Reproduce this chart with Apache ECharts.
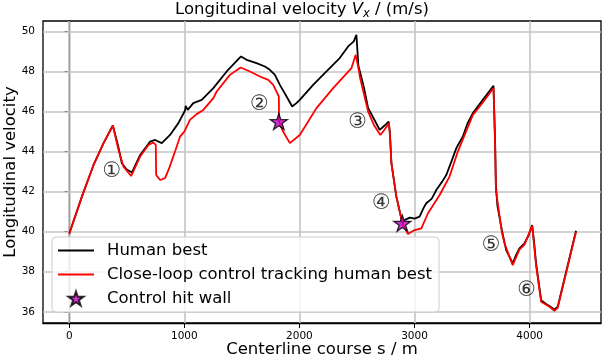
<!DOCTYPE html>
<html>
<head>
<meta charset="utf-8">
<script src="https://cdn.jsdelivr.net/npm/echarts@6/dist/echarts.min.js"></script>
<style>
  html, body { margin: 0; padding: 0; background: #fff; }
  #velocityChart { width: 604px; height: 362px; }
</style>
</head>
<body>
<div id="velocityChart"></div>
<script>
// human best lap: course position s (m) and longitudinal velocity (m/s)
const humanS = [0, 110, 211, 298, 379, 428, 457, 500, 544, 616, 703, 746, 804, 876, 948, 1006, 1012, 1029, 1078, 1151,
  1252, 1368, 1492, 1541, 1627, 1700, 1743, 1787, 1830, 1888, 1937, 1974, 2003, 2119, 2235, 2350, 2423, 2472, 2495, 2512,
  2560, 2597, 2650, 2697, 2740, 2775, 2785, 2799, 2842, 2880, 2894, 2920, 2960, 3000, 3044, 3080, 3102, 3150, 3189, 3240,
  3276, 3320, 3363, 3420, 3460, 3507, 3593, 3686, 3700, 3707, 3720, 3758, 3796, 3853, 3880, 3911, 3955, 3990, 4022, 4040,
  4056, 4100, 4140, 4172, 4215, 4244, 4403];
const humanV = [39.9, 41.75, 43.33, 44.42, 45.3, 44.2, 43.42, 43.1, 42.95, 43.83, 44.5, 44.58, 44.42, 44.83, 45.42, 46.05, 46.28, 46.08, 46.42, 46.58,
  47.17, 48.0, 48.75, 48.58, 48.42, 48.25, 48.08, 47.83, 47.33, 46.75, 46.25, 46.42, 46.58, 47.33, 48.0, 48.67, 49.25, 49.5, 49.83, 48.3,
  47.2, 46.17, 45.6, 45.08, 45.3, 45.5, 45.0, 43.42, 41.75, 40.8, 40.45, 40.6, 40.7, 40.65, 40.75, 41.2, 41.42, 41.65, 42.08, 42.5,
  42.83, 43.5, 44.17, 44.75, 45.4, 45.92, 46.58, 47.28, 44.5, 42.3, 41.3, 40.1, 39.08, 38.42, 38.8, 39.17, 39.42, 39.8, 40.33, 39.4,
  38.42, 36.58, 36.4, 36.29, 36.12, 36.25, 40.05];

// close-loop control tracking human best
const trackS = [0, 110, 211, 298, 379, 428, 471, 538, 616, 688, 731, 752, 755, 789, 833, 870, 919, 963, 1000, 1049,
  1107, 1165, 1252, 1281, 1396, 1489, 1570, 1657, 1729, 1772, 1807, 1821, 1823, 1858, 1917, 2003, 2148, 2293, 2452, 2489,
  2518, 2524, 2597, 2650, 2703, 2740, 2778, 2790, 2799, 2842, 2894, 2943, 3001, 3059, 3117, 3218, 3304, 3376, 3440, 3507,
  3600, 3686, 3700, 3707, 3758, 3781, 3853, 3911, 3955, 4022, 4056, 4100, 4172, 4215, 4244, 4403];
const trackV = [39.9, 41.75, 43.33, 44.42, 45.3, 44.08, 43.25, 42.78, 43.75, 44.33, 44.45, 44.33, 42.83, 42.58, 42.67, 43.2, 44.0, 44.75, 45.0, 45.58,
  45.87, 46.08, 46.67, 47.0, 47.83, 48.2, 48.0, 47.75, 47.58, 47.33, 46.92, 46.75, 45.5, 45.0, 44.42, 44.83, 46.17, 47.17, 48.17, 48.83,
  48.0, 47.75, 46.0, 45.3, 44.83, 45.1, 45.42, 44.5, 43.42, 41.75, 40.42, 39.88, 40.08, 40.17, 40.92, 41.83, 42.75, 44.0, 44.9, 45.83,
  46.5, 47.17, 44.3, 42.08, 40.0, 39.42, 38.33, 39.1, 39.35, 40.3, 38.3, 36.5, 36.25, 36.05, 36.2, 40.0];

// where the controller hit the wall
const wallS = [1821, 2894];
const wallV = [45.5, 40.42];

// circled corner labels
const noteText = ['①', '②', '③', '④', '⑤', '⑥'];
const noteS = [370, 1653, 2506, 2712, 3666, 3975];
const noteV = [43.0, 46.37, 45.46, 41.42, 39.33, 37.08];

const xTicks = [0, 1000, 2000, 3000, 4000];
const yTicks = [36, 38, 40, 42, 44, 46, 48, 50];

const font = 'DejaVu Sans';
const starPath = 'path://M50,0 L61.8,35.1 L98.9,35.1 L68.9,56.9 L80.3,92.1 L50,70.4 L19.7,92.1 L31.1,56.9 L1.1,35.1 L38.2,35.1 Z';

const pair = (xs, ys) => xs.map((x, i) => [x, ys[i]]);

let myChart = echarts.init(document.getElementById('velocityChart'));
let option = {
  animation: false,
  title: {
    text: '{a|Longitudinal velocity }{b|V}{c|x}{a| / (m/s)}',
    left: 'center',
    top: 0,
    padding: 0,
    textStyle: {
      fontWeight: 'normal',
      rich: {
        a: { fontSize: 16.5, fontFamily: font, fontWeight: 'normal', color: '#000', lineHeight: 20 },
        b: { fontSize: 16.5, fontFamily: font, fontWeight: 'normal', color: '#000', fontStyle: 'italic', lineHeight: 20 },
        c: { fontSize: 11.5, fontFamily: font, fontWeight: 'normal', color: '#000', fontStyle: 'italic', lineHeight: 12, verticalAlign: 'bottom' }
      }
    }
  },
  legend: {
    data: [
      { name: 'Human best', itemStyle: { opacity: 0 } },
      { name: 'Close-loop control tracking human best', itemStyle: { opacity: 0 } },
      { name: 'Control hit wall' }
    ],
    orient: 'vertical',
    left: 52,
    top: 237,
    itemWidth: 36,
    itemHeight: 14,
    itemGap: 7,
    padding: [5, 7, 5, 5],
    backgroundColor: 'rgba(255,255,255,0.8)',
    borderColor: '#cccccc',
    borderWidth: 1,
    borderRadius: 4,
    textStyle: { fontSize: 16.5, fontFamily: font, color: '#000', padding: [0, 0, 0, 8] }
  },
  grid: {
    left: 43, right: 3, top: 21, bottom: 39,
    outerBoundsMode: 'none',
    containLabel: false,
    show: true,
    borderColor: '#000',
    borderWidth: 1.3
  },
  xAxis: {
    type: 'value',
    min: -228,
    max: 4620,
    name: 'Centerline course s / m',
    nameLocation: 'middle',
    nameGap: 18,
    nameMoveOverlap: false,
    nameTextStyle: { fontSize: 16.5, fontFamily: font, color: '#000' },
    axisLine: { show: true, lineStyle: { color: '#000', width: 1.3 } },
    axisTick: { show: true, inside: false, length: 5, customValues: xTicks, lineStyle: { color: '#000' } },
    axisLabel: { customValues: xTicks, formatter: v => String(v), fontSize: 10.5, fontFamily: font, color: '#000', margin: 8 },
    splitLine: { show: false }
  },
  yAxis: {
    type: 'value',
    min: 35.44,
    max: 50.52,
    name: 'Longitudinal velocity',
    nameLocation: 'middle',
    nameGap: 24,
    nameMoveOverlap: false,
    nameTextStyle: { fontSize: 16.5, fontFamily: font, color: '#000' },
    axisLine: { show: true, lineStyle: { color: '#000', width: 1.3 } },
    axisTick: { show: true, inside: false, length: 5, customValues: yTicks, lineStyle: { color: '#000' } },
    axisLabel: { customValues: yTicks, formatter: v => String(v), fontSize: 10.5, fontFamily: font, color: '#000', margin: 8 },
    splitLine: { show: false }
  },
  series: [
    {
      name: 'notes',
      type: 'scatter',
      z: 1,
      symbolSize: 1,
      itemStyle: { color: 'rgba(0,0,0,0)' },
      data: noteS.map((s, i) => [s, noteV[i], noteText[i]]),
      label: {
        show: true,
        position: 'inside',
        formatter: p => p.value[2],
        fontSize: 21,
        fontFamily: 'DejaVu Sans, Noto Sans CJK SC',
        color: '#000'
      },
      markLine: {
        z: 1,
        silent: true,
        symbol: ['none', 'none'],
        label: { show: false },
        lineStyle: { type: 'solid', color: '#c4c4c4', width: 1.6 },
        data: xTicks.map(v => ({ xAxis: v })).concat(yTicks.map(v => ({ yAxis: v })))
      }
    },
    {
      name: 'Human best',
      type: 'line',
      z: 2,
      symbol: 'none',
      lineStyle: { color: '#000', width: 1.8 },
      itemStyle: { color: '#000' },
      data: pair(humanS, humanV)
    },
    {
      name: 'Close-loop control tracking human best',
      type: 'line',
      z: 3,
      symbol: 'none',
      lineStyle: { color: '#ff0000', width: 1.8 },
      itemStyle: { color: '#ff0000' },
      data: pair(trackS, trackV)
    },
    {
      name: 'Control hit wall',
      type: 'scatter',
      z: 4,
      symbol: starPath,
      symbolKeepAspect: true,
      symbolSize: 17,
      itemStyle: { color: '#bf00bf', borderColor: '#000', borderWidth: 1.3 },
      data: pair(wallS, wallV)
    }
  ]
};
myChart.setOption(option, true);
</script>
</body>
</html>
